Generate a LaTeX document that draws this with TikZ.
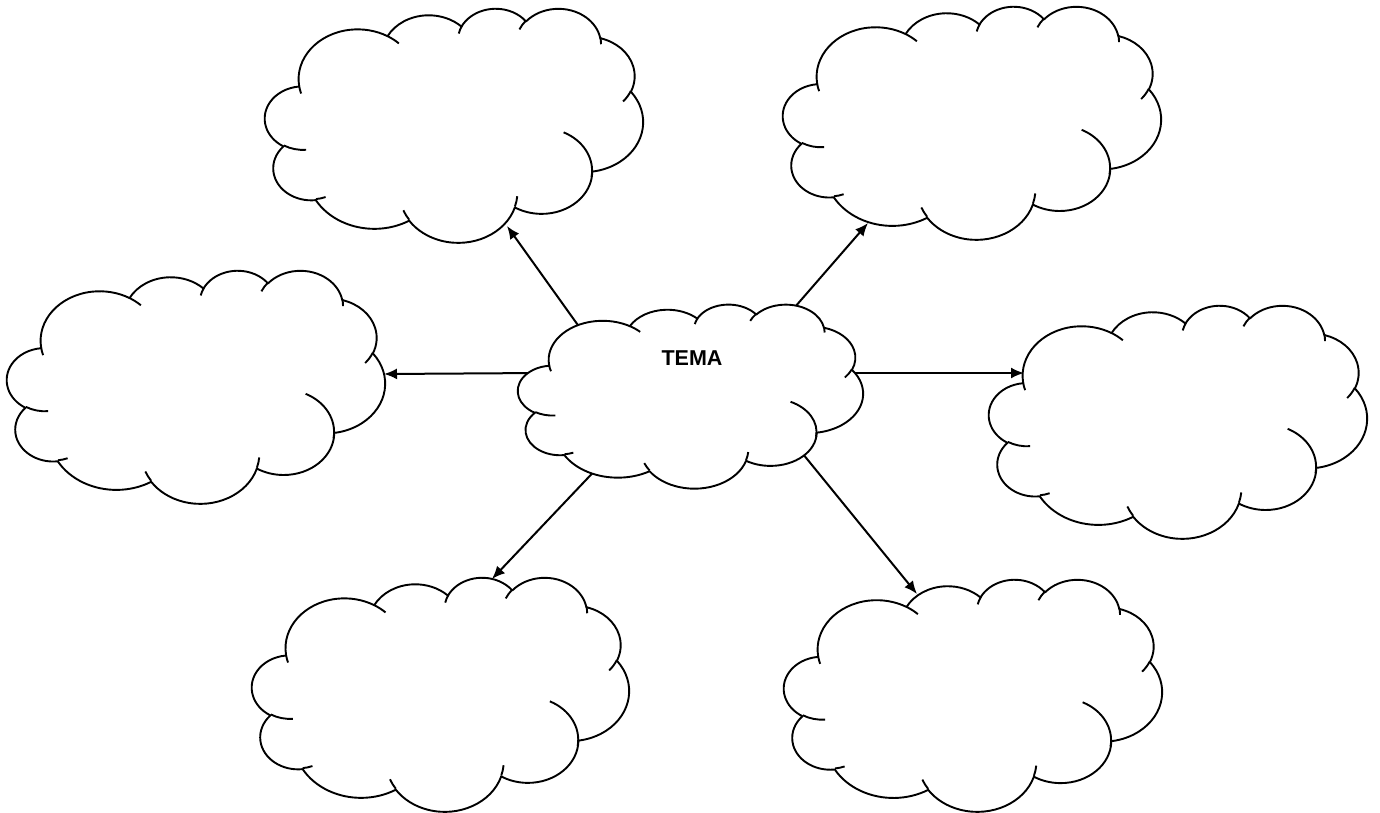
\documentclass[tikz,border=0pt]{standalone}
\usepackage{fontspec}
\setmainfont{Liberation Sans}
\usetikzlibrary{arrows.meta}

% Elliptical arc given as width radius, height radius, start angle and sweep
% (angles measured as the direction from the centre, y pointing down).
\newcommand\ooarc[4]{%
  \pgfmathsetmacro\ooA{atan2(#1*sin(#3), #2*cos(#3))}%
  \pgfmathsetmacro\ooB{atan2(#1*sin(#3+#4), #2*cos(#3+#4))}%
  \pgfmathsetmacro\ooD{\ooB-\ooA}%
  \pgfmathsetmacro\ooD{\ooD-360*round((\ooD-(#4))/360)}%
  \pgfmathsetmacro\ooE{\ooA+\ooD}%
  \pgfpatharc{\ooA}{\ooE}{#1pt and #2pt}%
}
\newcommand\oomove[2]{\pgfpathmoveto{\pgfpoint{#1pt}{#2pt}}}

% Cloud outline in a 43.2 x 43.2 box
\newcommand\cloudoutline{%
  \oomove{3.900}{14.370}%
  \ooarc{6.753}{9.190}{-190.48748}{123.78053}%
  \ooarc{5.333}{7.267}{-144.10238}{89.94523}%
  \ooarc{4.365}{5.945}{-145.80792}{99.72302}%
  \ooarc{4.857}{6.595}{-130.98607}{117.24173}%
  \ooarc{5.333}{7.273}{-78.70888}{109.02692}%
  \ooarc{6.775}{9.220}{-46.26725}{130.26900}%
  \ooarc{5.785}{7.867}{0.62502}{114.03333}%
  \ooarc{6.752}{9.215}{22.45160}{115.17255}%
  \ooarc{7.720}{10.543}{66.24263}{75.71102}%
  \ooarc{4.360}{5.918}{-274.94208}{146.73557}%
  \ooarc{4.345}{5.945}{-246.82850}{152.51885}%
  \pgfpathclose
  \pgfsetfillcolor{white}\pgfsetstrokecolor{black}%
  \pgfusepath{fill,stroke}%
  \oomove{4.693}{26.177}\ooarc{4.345}{5.945}{86.74200}{26.42950}%
  \oomove{6.928}{34.899}\ooarc{4.360}{5.918}{73.61047}{11.44747}%
  \oomove{16.478}{39.090}\ooarc{6.752}{9.215}{137.62415}{14.08110}%
  \oomove{28.827}{34.751}\ooarc{6.752}{9.215}{6.45327}{15.99835}%
  \oomove{34.129}{22.954}\ooarc{5.785}{7.867}{-70.29235}{81.57298}%
  \oomove{41.798}{15.354}\ooarc{5.333}{7.273}{30.31803}{19.42595}%
  \oomove{38.324}{5.426}\ooarc{4.857}{6.595}{-13.74433}{14.86217}%
  \oomove{29.078}{3.952}\ooarc{4.857}{6.595}{-149.18145}{18.19617}%
  \oomove{22.141}{4.720}\ooarc{4.365}{5.945}{-163.49427}{17.68810}%
  \oomove{14.000}{5.192}\ooarc{6.753}{9.190}{-66.70695}{12.31935}%
  \oomove{4.127}{15.789}\ooarc{6.753}{9.190}{157.65435}{11.85817}%
  \pgfusepath{stroke}%
}

% name, left, top, width, height (y measured downwards)
\newcommand\cloudat[5]{%
  \node[cloudbox, minimum width=#4pt, minimum height=#5pt] (#1)
    at ({#2+#4/2}, {-(#3+#5/2)}) {};
  \begin{scope}[shift={(#2,-#3)}, xscale=#4/43.2, yscale=-#5/43.2]
    \cloudoutline
  \end{scope}%
}

\tikzset{
  cloudbox/.style={rectangle, inner sep=0pt, draw=none},
  cloudline/.style={line width=1.9pt, line join=round},
  conn/.style={line width=2pt, -{Latex[length=13pt, width=11pt]}},
  topic/.style={font=\fontsize{21.5}{24}\selectfont\bfseries, inner sep=0pt},
}

\begin{document}
\begin{tikzpicture}[x=1pt, y=1pt]
  \useasboundingbox (0,0) rectangle (1380,-812);

  \begin{scope}[cloudline]
    \cloudat{tl}{265}{8}{378}{234}
    \cloudat{tr}{783}{6}{378}{233}
    \cloudat{lf}{7}{270}{378}{233}
    \cloudat{rt}{989}{305}{378}{233}
    \cloudat{bl}{252}{577}{377}{234}
    \cloudat{br}{784}{579}{378}{232}
  \end{scope}

  % connector ends
  \coordinate (c-tl) at (585,-335);
  \coordinate (c-tr) at (788,-315);
  \coordinate (c-lf) at (540,-373);
  \coordinate (c-rt) at (840,-373);
  \coordinate (c-bl) at (603,-462);
  \coordinate (c-br) at (794,-443);
  \coordinate (tl-in) at (507,-226);
  \coordinate (tr-in) at (868,-223);
  \coordinate (lf-in) at (384,-374);
  \coordinate (rt-in) at (1024,-373);
  \coordinate (bl-in) at (492,-579);
  \coordinate (br-in) at (917,-594);

  \draw[conn] (c-tl) -- (tl-in);
  \draw[conn] (c-tr) -- (tr-in);
  \draw[conn] (c-lf) -- (lf-in);
  \draw[conn] (c-rt) -- (rt-in);
  \draw[conn] (c-bl) -- (bl-in);
  \draw[conn] (c-br) -- (br-in);

  \begin{scope}[cloudline]
    \cloudat{ctr}{518}{304}{345}{184}
  \end{scope}
  \node[topic] (tema) at (692,-358) {TEMA};
\end{tikzpicture}
\end{document}
